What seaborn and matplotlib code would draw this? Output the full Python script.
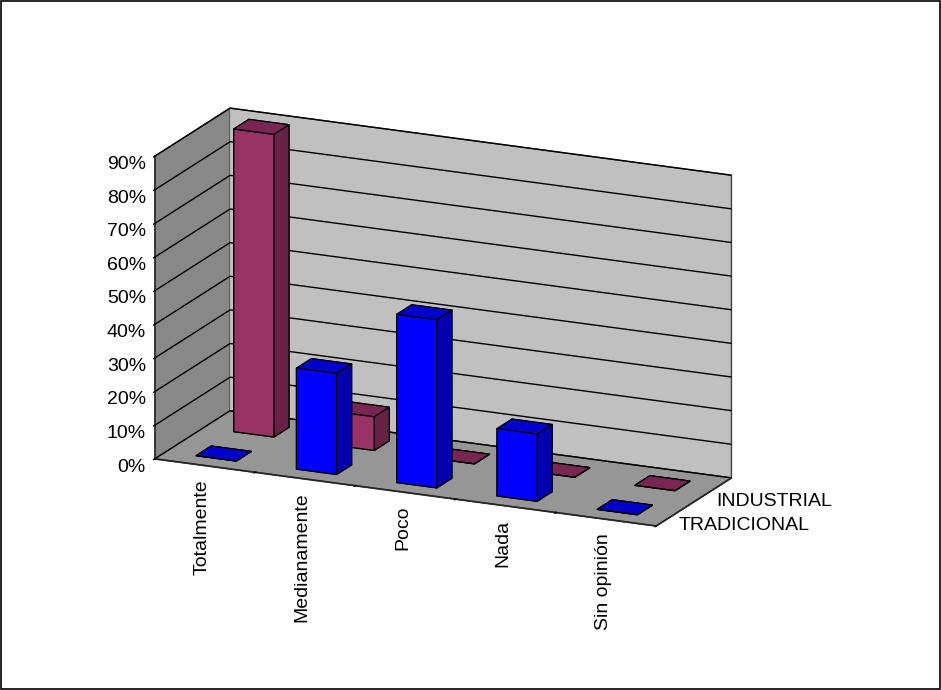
import numpy as np
import matplotlib
matplotlib.use("Agg")
import matplotlib.pyplot as plt
import seaborn as sns
from matplotlib.patches import Rectangle

categories = ["Totalmente", "Medianamente", "Poco", "Nada", "Sin opinión"]
series_names = ["TRADICIONAL", "INDUSTRIAL"]
tradicional = [0.0, 0.30, 0.50, 0.20, 0.0]
industrial = [0.90, 0.10, 0.0, 0.0, 0.0]
z_ticks = [0.0, 0.1, 0.2, 0.3, 0.4, 0.5, 0.6, 0.7, 0.8, 0.9]
z_labels = ["0%", "10%", "20%", "30%", "40%", "50%", "60%", "70%", "80%", "90%"]

# face colours: bottom, top, front(-y), back(+y), left(-x), right(+x)
face_colors = {
    "TRADICIONAL": ["#0000CC", "#0000CC", "#0000FF", "#0000FF", "#0000FF", "#0000B0"],
    "INDUSTRIAL": ["#7A2652", "#7A2652", "#993366", "#993366", "#993366", "#662244"],
}

sns.set_theme(style="white")
plt.rcParams["font.family"] = ["Liberation Sans", "DejaVu Sans"]
for k in ("text.color", "axes.labelcolor", "xtick.color", "ytick.color"):
    plt.rcParams[k] = "black"

fig = plt.figure(figsize=(9.41, 6.9), dpi=100)
ax = fig.add_axes([-0.039, 0.027, 1.0, 1.0], projection="3d")

bw = 0.4
xs, ys, dzs, cols = [], [], [], []
for s, (name, vals) in enumerate(zip(series_names, [tradicional, industrial])):
    for i, v in enumerate(vals):
        xs.append(i + (1 - bw) / 2)
        ys.append(s + (1 - bw) / 2)
        dzs.append(v)
        cols.extend(face_colors[name])

ax.bar3d(xs, ys, np.zeros(len(xs)), bw, bw, dzs, color=cols, shade=False,
         edgecolor="black", linewidth=0.9)

ax.set_xlim(0, len(categories))
ax.set_ylim(0, len(series_names))
ax.set_zlim(0, z_ticks[-1])

fs = 14
ax.set_xticks(np.arange(len(categories)) + 0.5)
ax.set_xticklabels(categories, rotation=90, va="top", ha="center", fontsize=fs)
ax.set_xticks(np.arange(len(categories) + 1), minor=True)
ax.set_yticks(np.arange(len(series_names)) + 0.5)
ax.set_yticklabels(series_names, fontsize=fs, ha="left")
ax.set_zticks(z_ticks)
ax.set_zticklabels(z_labels, fontsize=fs, ha="right")
ax.zaxis.set_ticks_position("lower")
ax.tick_params(axis="x", pad=2)
ax.tick_params(axis="y", pad=-6)
ax.tick_params(axis="z", pad=-4)

ax.xaxis._axinfo["tick"]["linewidth"] = {True: 0.0, False: 1.0}
ax.yaxis._axinfo["tick"]["linewidth"] = {True: 0.0, False: 0.0}
ax.zaxis._axinfo["tick"]["linewidth"] = {True: 1.0, False: 1.0}

ax.xaxis.set_pane_color("#888888")
ax.yaxis.set_pane_color("#C0C0C0")
ax.zaxis.set_pane_color("#969696")
for a in (ax.xaxis, ax.yaxis, ax.zaxis):
    a.pane.set_edgecolor("#404040")
    a.pane.set_linewidth(1.0)

ax.xaxis._axinfo["grid"]["linewidth"] = 0
ax.yaxis._axinfo["grid"]["linewidth"] = 0
ax.zaxis._axinfo["grid"]["color"] = "black"
ax.zaxis._axinfo["grid"]["linewidth"] = 1.0

ax.set_box_aspect((5, 1.64, 2.87), zoom=0.93)
ax.view_init(elev=17, azim=-65.4)
ax.set_proj_type("ortho")

fig.add_artist(Rectangle((0.001, 0.001), 0.998, 0.997, transform=fig.transFigure,
                         fill=False, edgecolor="black", linewidth=1.2))

fig.savefig("out.png", dpi=100)
